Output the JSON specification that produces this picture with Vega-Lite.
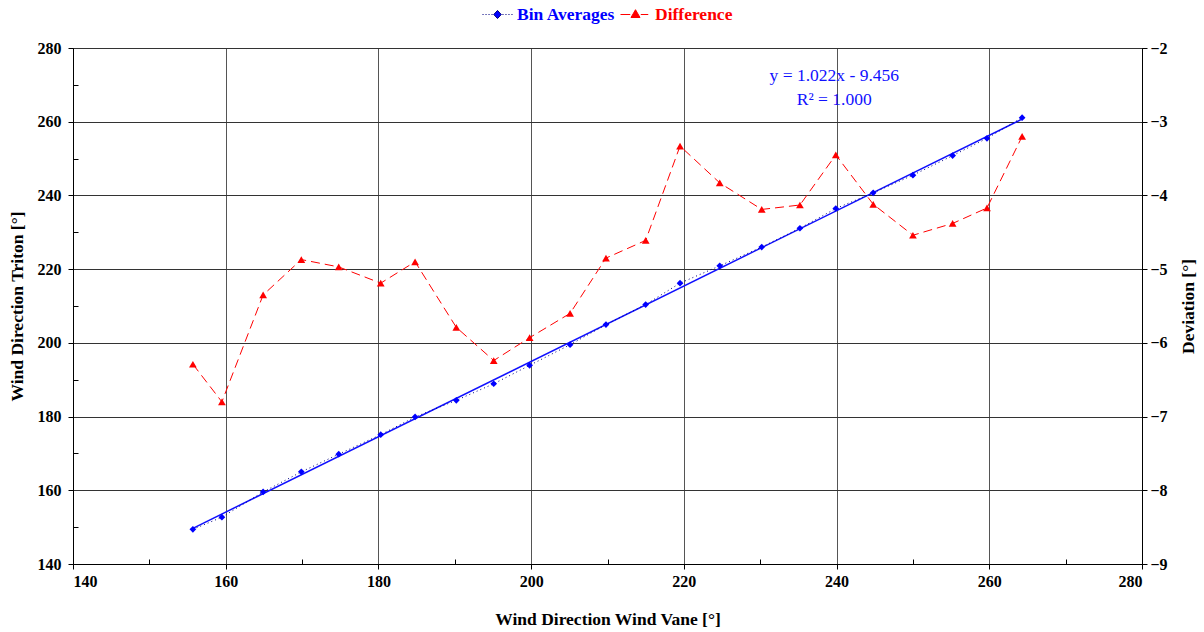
{
  "$schema": "https://vega.github.io/schema/vega-lite/v6.json",
  "width": 1069,
  "height": 516,
  "autosize": {"type": "none"},
  "padding": {"left": 73, "top": 48, "right": 62, "bottom": 68},
  "background": "white",
  "config": {
    "font": "Liberation Serif",
    "view": {"stroke": "black", "strokeWidth": 1},
    "axis": {
      "labelFont": "Liberation Serif",
      "labelFontWeight": "bold",
      "labelFontSize": 16,
      "labelColor": "black",
      "titleFont": "Liberation Serif",
      "titleFontWeight": "bold",
      "titleFontSize": 17.5,
      "titleColor": "black",
      "tickColor": "black",
      "domainColor": "black",
      "tickSize": 5,
      "gridColor": "#333333",
      "gridOpacity": 1,
      "gridWidth": 1
    },
    "legend": {
      "labelFont": "Liberation Serif",
      "labelFontSize": 17.5,
      "labelFontWeight": "bold",
      "symbolSize": 900,
      "labelOffset": 4,
      "symbolStrokeWidth": 1,
      "orient": "none",
      "direction": "horizontal"
    }
  },
  "data": {
    "values": [
      {"vane": 155.7, "triton": 149.4, "dev": -6.29},
      {"vane": 159.5, "triton": 152.7, "dev": -6.80},
      {"vane": 164.9, "triton": 159.55, "dev": -5.35},
      {"vane": 169.9, "triton": 165.0, "dev": -4.87},
      {"vane": 174.8, "triton": 169.8, "dev": -4.97},
      {"vane": 180.3, "triton": 175.1, "dev": -5.19},
      {"vane": 184.8, "triton": 179.9, "dev": -4.90},
      {"vane": 190.2, "triton": 184.4, "dev": -5.79},
      {"vane": 195.1, "triton": 188.9, "dev": -6.24},
      {"vane": 199.8, "triton": 193.9, "dev": -5.93},
      {"vane": 205.1, "triton": 199.5, "dev": -5.60},
      {"vane": 209.8, "triton": 204.95, "dev": -4.85},
      {"vane": 215.0, "triton": 210.4, "dev": -4.61},
      {"vane": 219.5, "triton": 216.2, "dev": -3.33},
      {"vane": 224.7, "triton": 220.9, "dev": -3.83},
      {"vane": 230.2, "triton": 226.0, "dev": -4.19},
      {"vane": 235.2, "triton": 231.1, "dev": -4.13},
      {"vane": 239.9, "triton": 236.45, "dev": -3.45},
      {"vane": 244.8, "triton": 240.7, "dev": -4.12},
      {"vane": 250.0, "triton": 245.5, "dev": -4.54},
      {"vane": 255.2, "triton": 250.8, "dev": -4.38},
      {"vane": 259.7, "triton": 255.5, "dev": -4.17},
      {"vane": 264.3, "triton": 261.1, "dev": -3.20}
    ]
  },
  "layer": [
    {
      "transform": [{"regression": "triton", "on": "vane"}],
      "mark": {"type": "line", "color": "#1010ff", "strokeWidth": 1.5},
      "encoding": {
        "x": {"field": "vane", "type": "quantitative",
          "scale": {"domain": [140, 280], "nice": false, "zero": false},
          "axis": {"orient": "bottom", "values": [140, 160, 180, 200, 220, 240, 260, 280], "title": "Wind Direction Wind Vane [°]",
            "grid": true, "gridColor": "#555555", "labelPadding": 4, "titlePadding": 21}},
        "y": {"field": "triton", "type": "quantitative",
          "scale": {"domain": [140, 280], "nice": false, "zero": false},
          "axis": {"orient": "left", "values": [140, 160, 180, 200, 220, 240, 260, 280], "title": "Wind Direction Triton [°]",
            "grid": true, "labelPadding": 7, "titlePadding": 11}}
      }
    },
    {
      "mark": {"type": "line", "color": "#000080", "strokeWidth": 1, "strokeDash": [1, 3]},
      "encoding": {
        "x": {"field": "vane", "type": "quantitative",
          "scale": {"domain": [140, 280], "nice": false, "zero": false},
          "axis": {"orient": "bottom", "values": [150, 170, 190, 210, 230, 250, 270], "labels": false, "domain": false, "grid": false, "tickSize": -5, "title": null}},
        "y": {"field": "triton", "type": "quantitative",
          "scale": {"domain": [140, 280], "nice": false, "zero": false},
          "axis": {"orient": "left", "values": [150, 170, 190, 210, 230, 250, 270], "labels": false, "domain": false, "grid": false, "tickSize": -5, "title": null}}
      }
    },
    {
      "mark": {"type": "point", "shape": "diamond", "filled": true, "size": 45, "opacity": 1},
      "encoding": {
        "x": {"field": "vane", "type": "quantitative", "scale": {"domain": [140, 280], "nice": false, "zero": false}, "axis": null},
        "y": {"field": "triton", "type": "quantitative", "scale": {"domain": [140, 280], "nice": false, "zero": false}, "axis": null},
        "color": {"datum": "Bin Averages", "type": "nominal",
          "scale": {"domain": ["Bin Averages"], "range": ["#0000ff"]},
          "legend": {
            "title": null, "legendX": 409, "legendY": -49,
            "labelColor": "#0000ff",
            "symbolStrokeColor": "#000080",
            "symbolType": "M-1,0h0.07M-0.8,0h0.07M-0.6,0h0.07M-0.4,0h0.07M0.33,0h0.07M0.53,0h0.07M0.73,0h0.07M0.93,0h0.07M0,-0.27L0.25,0L0,0.27L-0.25,0Z"
          }}
      }
    },
    {
      "mark": {"type": "line", "color": "#ff0000", "strokeWidth": 1, "strokeDash": [9, 5]},
      "encoding": {
        "x": {"field": "vane", "type": "quantitative", "scale": {"domain": [140, 280], "nice": false, "zero": false}, "axis": null},
        "y": {"field": "dev", "type": "quantitative",
          "scale": {"domain": [-9, -2], "nice": false, "zero": false},
          "axis": {"orient": "right", "values": [-9, -8, -7, -6, -5, -4, -3, -2], "title": "Deviation [°]",
            "grid": false, "labelPadding": 3, "titleAngle": -90, "titleBaseline": "top", "titlePadding": 12}}
      }
    },
    {
      "mark": {"type": "point", "shape": "triangle-up", "filled": true, "size": 60, "opacity": 1},
      "encoding": {
        "x": {"field": "vane", "type": "quantitative", "scale": {"domain": [140, 280], "nice": false, "zero": false}, "axis": null},
        "y": {"field": "dev", "type": "quantitative", "scale": {"domain": [-9, -2], "nice": false, "zero": false}, "axis": null},
        "fill": {"datum": "Difference", "type": "nominal",
          "scale": {"domain": ["Difference"], "range": ["#ff0000"]},
          "legend": {
            "title": null, "legendX": 547, "legendY": -49,
            "labelColor": "#ff0000",
            "symbolStrokeColor": "#ff0000",
            "symbolType": "M-1,0H-0.35M0.35,0H0.85M0,-0.32L0.3,0.2L-0.3,0.2Z"
          }}
      }
    },
    {
      "data": {"values": [
        {"vane": 239.7, "triton": 272.5, "label": "y = 1.022x - 9.456"},
        {"vane": 239.7, "triton": 265.8, "label": "R² = 1.000"}
      ]},
      "mark": {"type": "text", "color": "#1010ff", "fontSize": 17.5, "font": "Liberation Serif", "align": "center", "baseline": "middle"},
      "encoding": {
        "x": {"field": "vane", "type": "quantitative", "scale": {"domain": [140, 280], "nice": false, "zero": false}, "axis": null},
        "y": {"field": "triton", "type": "quantitative", "scale": {"domain": [140, 280], "nice": false, "zero": false}, "axis": null},
        "text": {"field": "label"}
      }
    }
  ],
  "resolve": {"scale": {"y": "independent"}, "axis": {"x": "independent", "y": "independent"}}
}
